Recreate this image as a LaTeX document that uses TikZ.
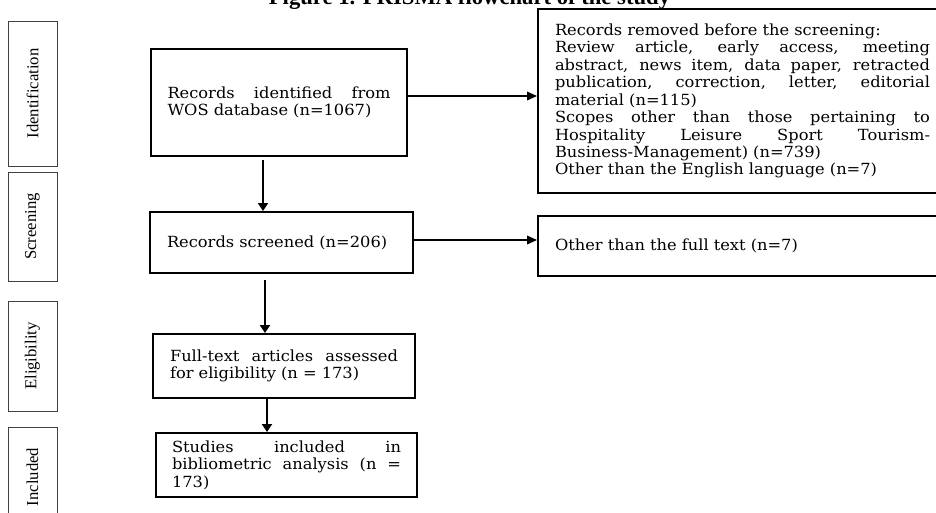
\documentclass[tikz,border=0pt]{standalone}
\usepackage{fontspec}
\setmainfont{DejaVu Serif}[FakeStretch=1.06]
\newfontfamily\stagefont{Liberation Serif}
\usetikzlibrary{arrows.meta}

% a fully justified line inside a node of fixed text width
% (the node's ragged setting fixes the interword space, so restore the font's glue)
\newcommand{\jl}[1]{{\spaceskip=0pt\xspaceskip=0pt\makebox[\hsize][s]{#1}}}

\tikzset{
  flowbox/.style={draw, line width=1.5pt, inner sep=0pt, align=left,
    font=\fontsize{11.5}{13.1}\selectfont},
  stagebox/.style={draw=black!75, line width=0.7pt, inner sep=0pt, rotate=90,
    font=\stagefont\fontsize{12.5}{14}\selectfont},
  downarrow/.style={line width=1.5pt, -{Triangle[length=6pt,width=7.5pt]}},
  sidearrow/.style={line width=1.1pt, -{Triangle[length=7.5pt,width=6.5pt]}},
}

\begin{document}
\begin{tikzpicture}[x=0.75pt,y=-0.75pt]
\useasboundingbox (0,0) rectangle (936,512);
\begin{scope}
\clip (0,0) rectangle (936,512);

% title (its upper part lies above the page)
\node[anchor=base, font=\stagefont\bfseries\fontsize{17}{20}\selectfont] (title)
  at (469.5,4.5) {Figure 1. PRISMA flowchart of the study};

% stage labels on the left
\node[stagebox, minimum width=108.75pt, minimum height=36.75pt] (sid) at (32.5,93.5) {Identification\hspace{21.75pt}};
\node[stagebox, minimum width=81.75pt, minimum height=36.75pt] (sscr) at (32.5,226.5) {Screening};
\node[stagebox, minimum width=82.5pt, minimum height=36.75pt] (selig) at (32.5,356) {Eligibility};
\node[stagebox, minimum width=75pt, minimum height=36.75pt] (sinc) at (32.5,477) {Included};

% main column
\node[flowbox, minimum width=192pt, minimum height=80.25pt, text width=167.25pt] (ident) at (279,102.5)
  {\jl{Records identified from}\\WOS database (n=1067)};
\node[flowbox, minimum width=197.25pt, minimum height=45.75pt, text width=171.75pt] (scr) at (281.5,242.5)
  {Records screened (n=206)};
\node[flowbox, minimum width=196.5pt, minimum height=48pt, text width=171pt] (elig) at (284,366)
  {\jl{Full-text articles assessed}\\for eligibility (n = 173)};
\node[flowbox, minimum width=195.75pt, minimum height=48pt, text width=171.75pt] (incl) at (286.5,465)
  {\jl{Studies included in}\\\jl{bibliometric analysis (n =}\\173)};

% exclusion boxes on the right
\node[flowbox, minimum width=306.75pt, minimum height=138pt, text width=281.25pt] (removed) at (742.5,101)
  {Records removed before the screening:\\
   \jl{Review article, early access, meeting}\\
   \jl{abstract, news item, data paper, retracted}\\
   \jl{publication, correction, letter, editorial}\\
   material (n=115)\\
   \jl{Scopes other than those pertaining to}\\
   \jl{Hospitality Leisure Sport Tourism-}\\
   Business-Management) (n=739)\\
   Other than the English language (n=7)};
\node[flowbox, minimum width=306.75pt, minimum height=45pt, text width=281.25pt] (fulltext) at (742.5,246)
  {Other than the full text (n=7)};

% connectors
\coordinate (c1) at (263,0);
\coordinate (c2) at (265,0);
\coordinate (c3) at (267,0);
\draw[downarrow] ([yshift=-2pt]ident.south -| c1) -- (scr.north -| c1);
\draw[downarrow] ([yshift=-4.5pt]scr.south -| c2) -- (elig.north -| c2);
\draw[downarrow] (elig.south -| c3) -- (incl.north -| c3);
\coordinate (h1) at (0,96);
\coordinate (h2) at (0,240);
\draw[sidearrow] (ident.east |- h1) -- (removed.west |- h1);
\draw[sidearrow] (scr.east |- h2) -- (fulltext.west |- h2);
\end{scope}
\end{tikzpicture}
\end{document}
